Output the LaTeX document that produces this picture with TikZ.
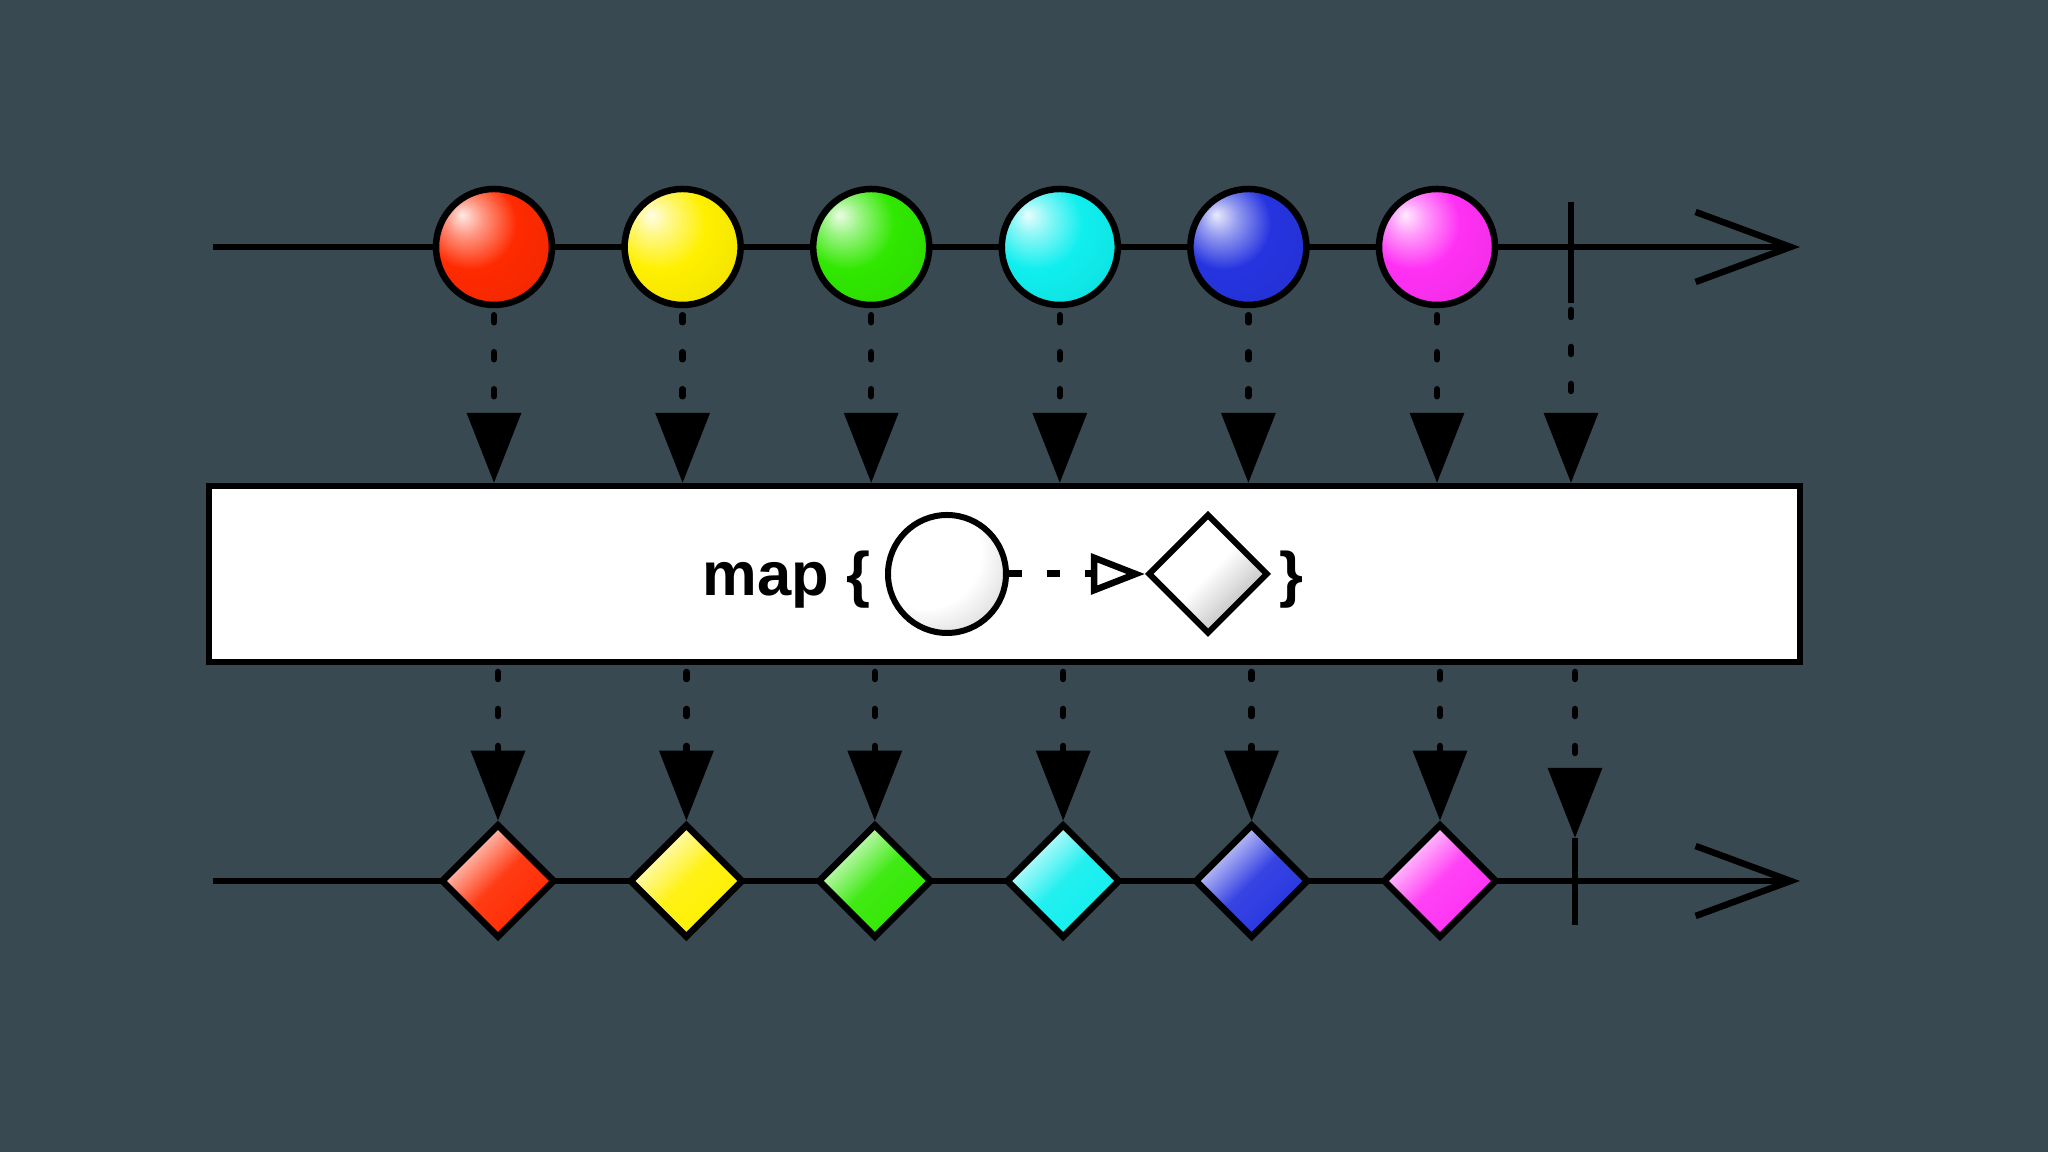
\documentclass[tikz,border=0pt]{standalone}
\usepackage{fontspec}
\setsansfont{Liberation Sans}
\usetikzlibrary{positioning, calc, shapes.geometric, arrows.meta}
\definecolor{SlateBg}{HTML}{384951}
\definecolor{MarbleRed}{HTML}{FF2A00}
\definecolor{MarbleYellow}{HTML}{FFF000}
\definecolor{MarbleGreen}{HTML}{30E800}
\definecolor{MarbleCyan}{HTML}{10EEEE}
\definecolor{MarbleBlue}{HTML}{2634E0}
\definecolor{MarbleMagenta}{HTML}{FF30F4}

\colorlet{marbleHue}{red}
\pgfdeclareradialshading[marbleHue]{marble}{\pgfpoint{-14bp}{14bp}}{%
  color(0bp)=(marbleHue!10!white); color(8bp)=(marbleHue!50!white);
  color(20bp)=(marbleHue); color(52bp)=(marbleHue!90!black); color(75bp)=(marbleHue!72!black)}
\pgfdeclareradialshading{fnsheen}{\pgfpoint{-14bp}{14bp}}{%
  color(0bp)=(white); color(24bp)=(white); color(48bp)=(black!25); color(75bp)=(black!45)}

\tikzset{
  marble/.style={circle, draw=black, line width=0.065cm, minimum size=1.16cm, inner sep=0pt,
    /utils/exec={\colorlet{marbleHue}{#1}}, shade, shading=marble},
  gem/.style={diamond, draw=black, line width=0.065cm, minimum width=1.14cm, minimum height=1.14cm,
    inner sep=0pt, top color=#1!10!white, bottom color=#1, middle color=#1!92!white, shading angle=45},
  timeline/.style={line width=0.065cm, -{Straight Barb[length=0.95cm, width=0.7cm, line width=0.065cm]}},
  hop/.style={line width=0.065cm, line cap=round, dash pattern=on 0.07cm off 0.30cm,
    shorten <=0.07cm, -{Triangle[length=0.7cm, width=0.53cm]}},
  donebar/.style={line width=0.065cm}
}

\begin{document}
\begin{tikzpicture}
  % Canvas
  \fill[SlateBg] (0,0) rectangle (20.48,11.52);
  \useasboundingbox (0,0) rectangle (20.48,11.52);

  % Source stream
  \coordinate (srcStart) at (2.13,9.05);
  \coordinate (srcEnd) at (18.0,9.05);
  \coordinate (srcDoneTop) at (15.71,9.50);
  \coordinate (srcDoneLow) at (15.71,8.49);
  \draw[timeline] (srcStart) -- (srcEnd);
  \draw[donebar] (srcDoneTop) -- (srcDoneLow);
  \foreach \hue [count=\i] in {MarbleRed, MarbleYellow, MarbleGreen, MarbleCyan, MarbleBlue, MarbleMagenta}
    \node[marble=\hue] (m\i) at ({4.94+1.886*(\i-1)}, 9.05) {};

  % Operator box
  \node[draw=black, fill=white, line width=0.06cm, minimum width=15.91cm, minimum height=1.76cm,
    inner sep=0pt] (box) at (10.045,5.78) {};
  \node[circle, draw=black, line width=0.06cm, minimum size=1.18cm, inner sep=0pt, shade,
    shading=fnsheen] (fnIn) at (9.47,5.78) {};
  \node[diamond, draw=black, line width=0.06cm, minimum width=1.2cm, minimum height=1.2cm,
    inner sep=0pt, top color=white, bottom color=black!30, middle color=white,
    shading angle=45] (fnOut) at (12.08,5.78) {};
  \node[left=0.14cm of fnIn, yshift=-0.06cm, inner sep=0pt,
    font=\sffamily\bfseries\fontsize{17.5}{20}\selectfont] (fnName) {map \{};
  \node[right=0.08cm of fnOut, yshift=-0.06cm, inner sep=0pt,
    font=\sffamily\bfseries\fontsize{17.5}{20}\selectfont] (fnClose) {\}};
  \draw[line width=0.07cm, dash pattern=on 0.13cm off 0.25cm,
    -{Triangle[open, length=0.54cm, width=0.4cm, line width=0.065cm]}] (fnIn) -- (fnOut);

  % Result stream
  \coordinate (outStart) at (2.13,2.71);
  \coordinate (outEnd) at (18.0,2.71);
  \coordinate (outDoneTop) at (15.75,3.14);
  \coordinate (outDoneLow) at (15.75,2.27);
  \draw[timeline] (outStart) -- (outEnd);
  \draw[donebar] (outDoneTop) -- (outDoneLow);
  \foreach \hue [count=\i] in {MarbleRed, MarbleYellow, MarbleGreen, MarbleCyan, MarbleBlue, MarbleMagenta}
    \node[gem=\hue] (d\i) at ({4.98+1.884*(\i-1)}, 2.71) {};

  % Hops through the operator
  \foreach \i in {1,...,6} {
    \draw[hop] (m\i.south) -- (m\i |- box.north);
    \draw[hop] (d\i |- box.south) -- (d\i.north);
  }
  \draw[hop] (srcDoneLow) -- (srcDoneLow |- box.north);
  \draw[hop] (outDoneTop |- box.south) -- (outDoneTop);
\end{tikzpicture}
\end{document}
